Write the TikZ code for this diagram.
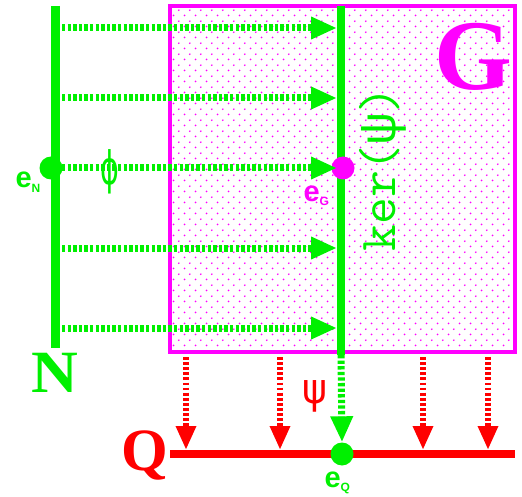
\documentclass[tikz,border=0pt]{standalone}
\usepackage{fontspec}
\usetikzlibrary{arrows.meta,patterns}
\newfontfamily\lsans{Liberation Sans}
\newfontfamily\lserif{Liberation Serif}
\newfontfamily\dejavu{DejaVu Sans}
\newfontfamily\lmono{Liberation Mono}
\definecolor{gr}{RGB}{0,240,0}
\definecolor{mg}{RGB}{255,0,255}
\definecolor{rd}{RGB}{255,0,0}
\pgfdeclarepatternformonly{mydots}{\pgfqpoint{0pt}{0pt}}{\pgfqpoint{10.67pt}{10.67pt}}{\pgfqpoint{10.67pt}{10.67pt}}{%
  \pgfpathcircle{\pgfqpoint{2.67pt}{2.67pt}}{1pt}%
  \pgfpathcircle{\pgfqpoint{8pt}{8pt}}{1pt}%
  \pgfusepath{fill}}
\begin{document}
\begin{tikzpicture}[x=1pt,y=-1pt,
  garrow/.style={gr, line width=7pt, dash pattern=on 3.3pt off 2.3pt, -{Triangle[length=26pt,width=21pt]}},
  rarrow/.style={rd, line width=6pt, dash pattern=on 2.8pt off 2.3pt, -{Triangle[length=24pt,width=19pt]}},
  dotnode/.style={circle, inner sep=0pt, minimum size=23pt},
  biglabel/.style={anchor=base, font=\lserif\bfseries\fontsize{#1}{#1}\selectfont},
  elabel/.style={anchor=base west, font=\lsans\bfseries\fontsize{29}{29}\selectfont},
  subfont/.style={}
]
\useasboundingbox (0,0) rectangle (522,497);
% group G
\fill[pattern=mydots, pattern color=mg] (169.5,6) rectangle (514.5,352);
\draw[mg, line width=4pt] (169.5,6) rectangle (514.5,352);
% lines
\coordinate (Ntop) at (55.5,6);
\coordinate (Nbot) at (55.5,348);
\draw[gr, line width=9pt] (Ntop) -- (Nbot);
\coordinate (Ktop) at (341,6);
\coordinate (Kbot) at (341,355);
\draw[gr, line width=8pt] (Ktop) -- (Kbot);
\coordinate (Qleft) at (170,454);
\coordinate (Qright) at (515,454);
\draw[rd, line width=8pt] (Qleft) -- (Qright);
% dots
\node[dotnode, fill=gr] (eN) at (51,168) {};
\node[dotnode, fill=mg] (eG) at (343,168) {};
\node[dotnode, fill=gr] (eQ) at (342,454) {};
% phi arrows
\foreach \i/\y in {1/28,2/98,3/168,4/248,5/328}{
  \coordinate (a\i) at (62,\y);
  \coordinate (b\i) at (337,\y);
  \draw[garrow] (a\i) -- (b\i);
}
% psi arrows
\foreach \i/\x in {1/186,2/280,3/423,4/488}{
  \coordinate (p\i) at (\x,357);
  \coordinate (q\i) at (\x,450);
  \draw[rarrow] (p\i) -- (q\i);
}
\draw[garrow] (Kbot) -- (eQ.north);
% labels
\node[biglabel=100, mg] (Gl) at (473,90) {G};
\node[biglabel=60, gr, xscale=1.08] (Nl) at (55,392) {N};
\node[biglabel=60, rd] (Ql) at (145,470) {Q};
\node[gr, font=\dejavu\fontsize{46}{46}\selectfont, xscale=0.62] (phi) at (110,172) {ϕ};
\node[rd, font=\dejavu\fontsize{42}{42}\selectfont, xscale=0.9] (psi) at (315,396) {ψ};
\node[gr, rotate=90, font=\ttfamily\fontsize{52}{52}\selectfont] (ker) at (383,169) {ker({\lmono ψ})};
\node[elabel, gr] (eNl) at (12,188) {e\raisebox{-5pt}{\lsans\bfseries\fontsize{12}{12}\selectfont N}};
\node[elabel, mg] (eGl) at (300,202) {e\raisebox{-4pt}{\lsans\bfseries\fontsize{12}{12}\selectfont G}};
\node[elabel, gr] (eQl) at (321,487) {e\raisebox{-4pt}{\lsans\bfseries\fontsize{12}{12}\selectfont Q}};
\end{tikzpicture}
\end{document}
